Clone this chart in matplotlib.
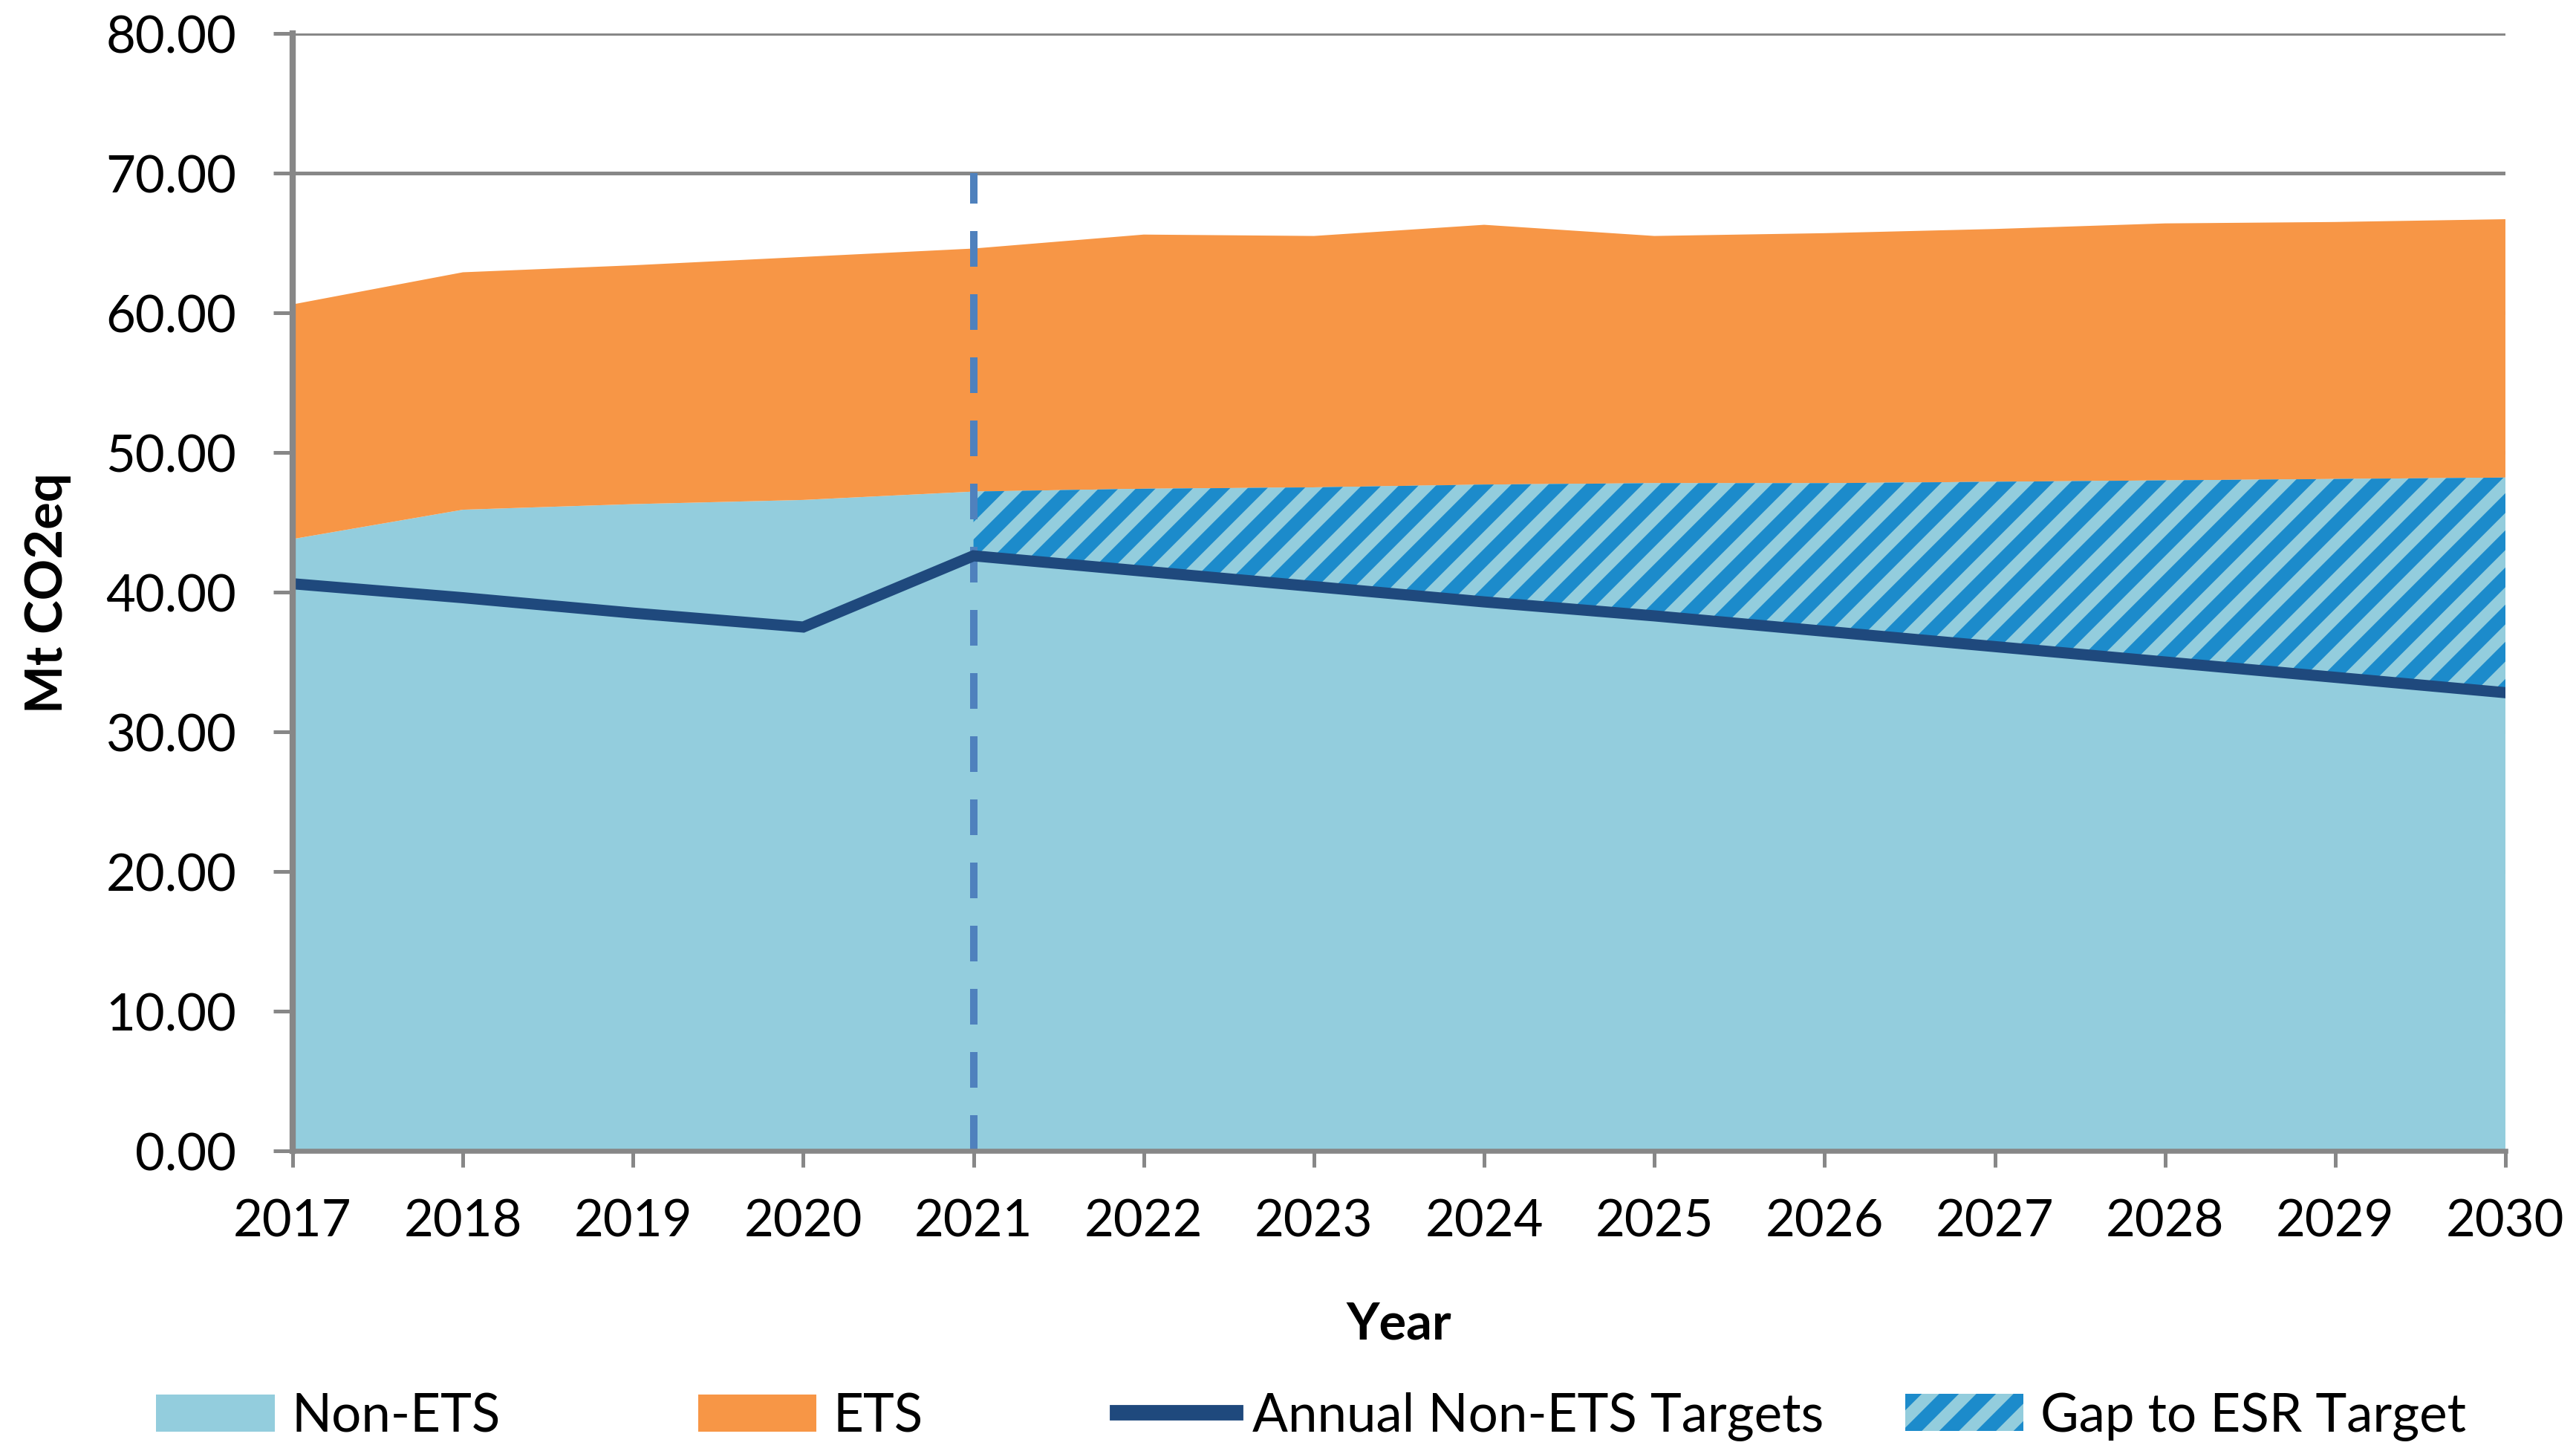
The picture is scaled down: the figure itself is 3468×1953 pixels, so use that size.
import numpy as np
import matplotlib
matplotlib.use("Agg")
import matplotlib.pyplot as plt
from matplotlib.patches import Patch
from matplotlib.lines import Line2D

plt.rcParams['font.family'] = ['Lato', 'DejaVu Sans']
plt.rcParams['hatch.linewidth'] = 4.5

years = [2017, 2018, 2019, 2020, 2021, 2022, 2023, 2024, 2025, 2026, 2027, 2028, 2029, 2030]
non_ets = [43.8, 45.9, 46.3, 46.6, 47.2, 47.4, 47.5, 47.7, 47.8, 47.8, 47.9, 48.0, 48.1, 48.2]
ets = [16.8, 17.0, 17.1, 17.4, 17.4, 18.2, 18.0, 18.6, 17.7, 17.9, 18.1, 18.4, 18.4, 18.5]
targets = [40.6, 39.6, 38.5, 37.5, 42.6, 41.5, 40.4, 39.3, 38.3, 37.2, 36.1, 35.0, 33.9, 32.8]
esr_start = 2021

c_non = '#93CDDD'
c_ets = '#F79646'
c_line = '#1F497D'
c_hatch = '#1C8BCB'
c_dash = '#4F81BD'
c_grey = '#878787'

x = np.array(years)
non = np.array(non_ets)
tot = non + np.array(ets)
tgt = np.array(targets)

fig = plt.figure(figsize=(11.56, 6.513), dpi=300)
ax = fig.add_axes([0.1136, 0.2068, 0.859, 0.7697])

ax.fill_between(x, 0, non, facecolor=c_non, linewidth=0, zorder=2)
ax.fill_between(x, non, tot, facecolor=c_ets, linewidth=0, zorder=2)
m = x >= esr_start
ax.fill_between(x[m], tgt[m], non[m], facecolor=c_non, edgecolor=c_hatch,
                hatch='//', linewidth=0, zorder=3)
ax.vlines(esr_start, 0, 70, colors=c_dash, linewidth=2.4, linestyles=(0, (4.8, 3.7)), zorder=4)
ax.plot(x, tgt, color=c_line, linewidth=3.6, solid_joinstyle='miter', zorder=5)

ax.set_xlim(2017, 2030)
ax.set_ylim(0, 80)
ax.set_xticks(years)
ax.set_yticks(np.arange(0, 81, 10))
ax.set_yticklabels(['%.2f' % v for v in np.arange(0, 81, 10)])
ax.grid(axis='y', color=c_grey, linewidth=1.2, zorder=0)
ax.set_axisbelow(True)

for s in ['top', 'right']:
    ax.spines[s].set_visible(False)
ax.spines['left'].set_color(c_grey)
ax.spines['left'].set_linewidth(2.0)
ax.spines['left'].set_zorder(6)
ax.spines['bottom'].set_color(c_grey)
ax.spines['bottom'].set_linewidth(1.6)
ax.spines['bottom'].set_zorder(6)

ax.tick_params(axis='y', direction='out', length=6.2, width=1.2, color=c_grey,
               labelsize=16.5, pad=12)
ax.tick_params(axis='x', direction='out', length=5.3, width=1.2, color=c_grey,
               labelsize=16.5, pad=10)

ax.set_ylabel('Mt CO2eq', fontsize=16.5, fontweight='bold', labelpad=11)
ax.set_xlabel('Year', fontsize=16.5, fontweight='bold', labelpad=18)

handles = [
    Patch(facecolor=c_non, label='Non-ETS'),
    Patch(facecolor=c_ets, label='ETS'),
    Line2D([0], [0], color=c_line, linewidth=5, label='Annual Non-ETS Targets'),
    Patch(facecolor=c_non, edgecolor=c_hatch, hatch='//', linewidth=0, label='Gap to ESR Target'),
]
lefts = [0.0606, 0.271, 0.4337, 0.7396]
for h, lx in zip(handles, lefts):
    fig.legend(handles=[h], loc='center left', bbox_to_anchor=(lx, 0.024),
               frameon=False, fontsize=17, borderpad=0, borderaxespad=0,
               handlelength=2.25, handleheight=0.71, handletextpad=0.32)

fig.savefig('out.png', dpi=300)
